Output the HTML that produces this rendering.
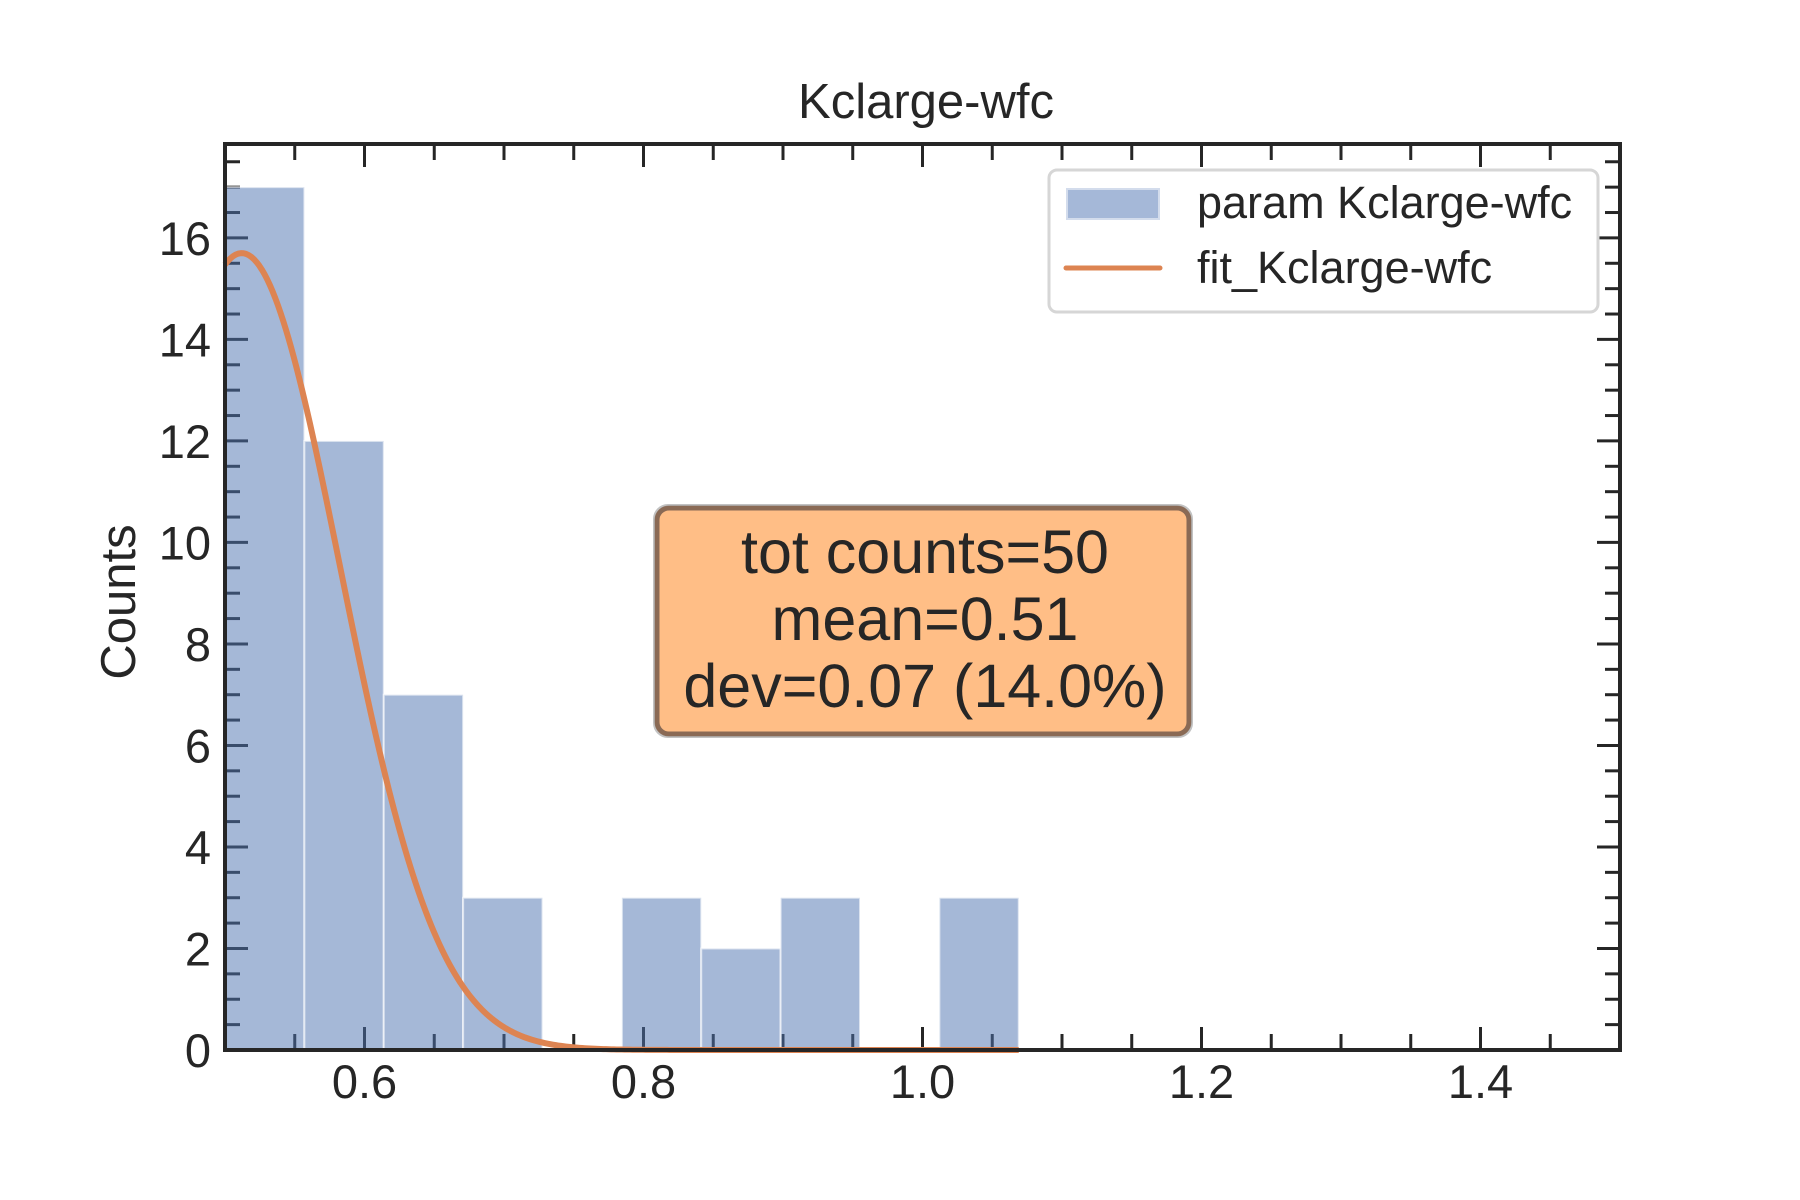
<!DOCTYPE html>
<html><head><meta charset="utf-8"><style>
html,body{margin:0;padding:0;background:#fff;}
svg{display:block;font-family:"Liberation Sans","DejaVu Sans",sans-serif;}
</style></head><body>
<svg id="chart" width="1800" height="1200" viewBox="0 0 1800 1200" xmlns="http://www.w3.org/2000/svg">
<rect width="1800" height="1200" fill="#fff"/>
<text x="926" y="118" font-size="49" text-anchor="middle" fill="#262626">Kclarge-wfc</text>
<text transform="translate(135,602) rotate(-90)" font-size="49" text-anchor="middle" fill="#262626">Counts</text>
<g id="ticks"></g>
<g id="bars"></g>
<g id="fit"></g>
<rect x="225" y="144" width="1395" height="906" fill="none" stroke="#262626" stroke-width="4"/>
<g id="labels"></g>
<g>
<rect x="1055" y="170" width="549" height="142" rx="8" fill="#fff" fill-opacity="0.8" stroke="#d6d6d6" stroke-width="3" transform="translate(-6,0)"/>
<rect x="1067" y="189" width="92" height="30" fill="#a5b8d8" stroke="#d3dcec" stroke-width="2"/>
<text x="1197" y="218" font-size="45" fill="#262626">param Kclarge-wfc</text>
<line x1="1066" y1="268" x2="1160" y2="268" stroke="#dd8452" stroke-width="5" stroke-linecap="round"/>
<text x="1197" y="283" font-size="45" fill="#262626">fit_Kclarge-wfc</text>
</g>
<g>
<rect x="657" y="508" width="532" height="226" rx="12" fill="#ffbe86" stroke="#8a6a55" stroke-width="5"/>
<rect x="654" y="505" width="538" height="232" rx="14" fill="none" stroke="#999" stroke-opacity="0.6" stroke-width="2"/>
<text x="925" y="573" font-size="61" text-anchor="middle" fill="#262626">tot counts=50</text>
<text x="925" y="640" font-size="61" text-anchor="middle" fill="#262626">mean=0.51</text>
<text x="925" y="707" font-size="61" text-anchor="middle" fill="#262626">dev=0.07 (14.0%)</text>
</g>
</svg>
<script>
const binEdges = [0.5, 0.5569, 0.6138, 0.6707, 0.7276, 0.7845, 0.8414, 0.8983, 0.9552, 1.0121, 1.069];
const counts = [17, 12, 7, 3, 0, 3, 2, 3, 0, 3];
const fitMean = 0.512;
const fitSigma = 0.0705;
const fitAmp = 15.7;
const xTickLabels = ["0.6", "0.8", "1.0", "1.2", "1.4"];
const xTickValues = [0.6, 0.8, 1.0, 1.2, 1.4];
const yTickValues = [0, 2, 4, 6, 8, 10, 12, 14, 16];

const X0 = 225, X1 = 1620, Y0 = 1050, Y1 = 144;
const xmin = 0.5, xmax = 1.5, ymin = 0, ymax = 17.85;
const sx = v => X0 + (v - xmin) / (xmax - xmin) * (X1 - X0);
const sy = v => Y0 - (v - ymin) / (ymax - ymin) * (Y0 - Y1);
const NS = "http://www.w3.org/2000/svg";
function mk(tag, attrs, parent){const e=document.createElementNS(NS,tag);for(const k in attrs)e.setAttribute(k,attrs[k]);parent.appendChild(e);return e;}
const gT = document.getElementById('ticks'), gB = document.getElementById('bars'), gF = document.getElementById('fit'), gL = document.getElementById('labels');

for (let i = 0; i <= 20; i++) {
  const v = 0.5 + i * 0.05;
  if (v <= xmin + 1e-9 || v >= xmax - 1e-9) continue;
  const major = xTickValues.some(t => Math.abs(t - v) < 1e-6);
  const len = major ? 23 : 16;
  const x = sx(v);
  const a = mk('line', {x1:x, y1:Y0, x2:x, y2:Y0-len, stroke:'#262626', 'stroke-width':3}, gT);
  
  
  const b = mk('line', {x1:x, y1:Y1, x2:x, y2:Y1+len, stroke:'#262626', 'stroke-width':3}, gT);
  
  
}
for (let i = 1; i * 0.5 < ymax; i++) {
  const v = i * 0.5;
  const major = yTickValues.indexOf(v) >= 0;
  const len = major ? 23 : 15;
  const y = sy(v);
  const a = mk('line', {x1:X0, y1:y, x2:X0+len, y2:y, stroke:'#262626', 'stroke-width':3}, gT);
  
  
  const b = mk('line', {x1:X1, y1:y, x2:X1-len, y2:y, stroke:'#262626', 'stroke-width':3}, gT);
  
  
}
counts.forEach((c, i) => {
  if (c <= 0) return;
  const x = sx(binEdges[i]), w = sx(binEdges[i+1]) - x, y = sy(c);
  const r = mk('rect', {x:x, y:y, width:w, height:Y0-y, fill:'#4c72b0', 'fill-opacity':0.5, stroke:'#ffffff', 'stroke-opacity':0.6, 'stroke-width':2}, gB);
  
  
});
let d = '';
const xs = binEdges[0], xe = binEdges[binEdges.length-1];
for (let k = 0; k <= 300; k++) {
  const v = xs + (xe - xs) * k / 300;
  const f = fitAmp * Math.exp(-Math.pow(v - fitMean, 2) / (2 * fitSigma * fitSigma));
  d += (k ? 'L' : 'M') + sx(v).toFixed(2) + ' ' + sy(f).toFixed(2);
}
const p = mk('path', {d:d, fill:'none', stroke:'#dd8452', 'stroke-width':6, 'stroke-linejoin':'round'}, gF);


xTickValues.forEach((v, i) => {
  const t = mk('text', {x:sx(v), y:1098, 'font-size':47, 'text-anchor':'middle', fill:'#262626'}, gL);
  t.textContent = xTickLabels[i];
  
  
});
yTickValues.forEach(v => {
  const t = mk('text', {x:211, y:sy(v)+17, 'font-size':47, 'text-anchor':'end', fill:'#262626'}, gL);
  t.textContent = String(v);
  
  
});
</script>
</body></html>
